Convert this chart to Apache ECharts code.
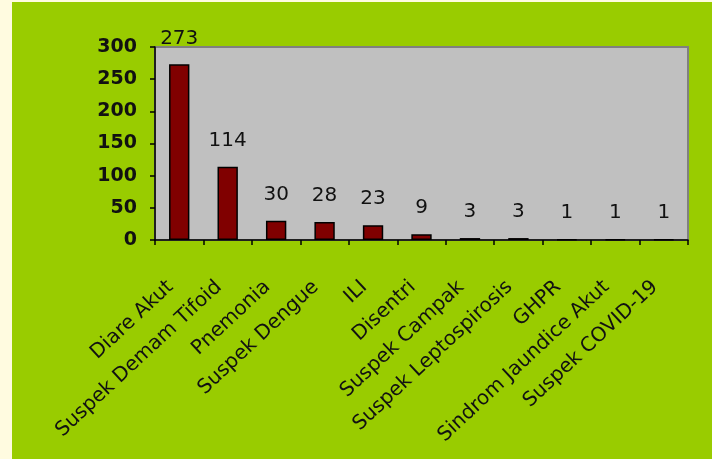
<!DOCTYPE html>
<html>
<head>
<meta charset="utf-8">
<script src="https://cdn.jsdelivr.net/npm/echarts@6/dist/echarts.min.js"></script>
<style>
html,body{margin:0;padding:0;background:#fffbe0;}
#c{width:712px;height:459px;}
</style>
</head>
<body>
<div id="c"></div>
<script>
var categories = ["Diare Akut","Suspek Demam Tifoid","Pnemonia","Suspek Dengue","ILI","Disentri","Suspek Campak","Suspek Leptospirosis","GHPR","Sindrom Jaundice Akut","Suspek COVID-19"];
var values = [273,114,30,28,23,9,3,3,1,1,1];
var yTicks = {min:0, max:300, interval:50};

var chart = echarts.init(document.getElementById('c'), null, {renderer:'canvas'});
chart.setOption({
  backgroundColor: 'transparent',
  animation: false,
  graphic: [{
    type: 'rect', z: -10, silent: true,
    shape: {x: 12, y: 2, width: 700, height: 457},
    style: {fill: '#99cc00'}
  }],
  grid: {
    left: 155, right: 24, top: 47, bottom: 219,
    show: true, backgroundColor: '#c0c0c0', borderColor: '#808080', borderWidth: 2
  },
  xAxis: {
    type: 'category',
    data: categories,
    axisLine: {lineStyle: {color: '#000', width: 1.5}},
    axisTick: {show: true, length: 5, lineStyle: {color: '#000', width: 1.5}},
    axisLabel: {
      rotate: 43, margin: 36, interval: 0, padding: [0, 12, 0, 0],
      color: '#111', fontFamily: 'DejaVu Sans', fontSize: 20
    }
  },
  yAxis: {
    type: 'value',
    min: yTicks.min, max: yTicks.max, interval: yTicks.interval,
    splitLine: {show: false},
    axisLine: {show: true, lineStyle: {color: '#000', width: 1.5}},
    axisTick: {show: true, length: 5, lineStyle: {color: '#000', width: 1.5}},
    axisLabel: {margin: 18, color: '#111', fontFamily: 'DejaVu Sans', fontWeight: 'bold', fontSize: 19}
  },
  series: [{
    type: 'bar',
    data: values,
    barWidth: '42%',
    itemStyle: {color: '#800000', borderColor: '#000', borderWidth: 1.5},
    label: {
      show: true, position: 'top', distance: 16,
      color: '#111', fontFamily: 'DejaVu Sans', fontSize: 20
    }
  }]
});
</script>
</body>
</html>
